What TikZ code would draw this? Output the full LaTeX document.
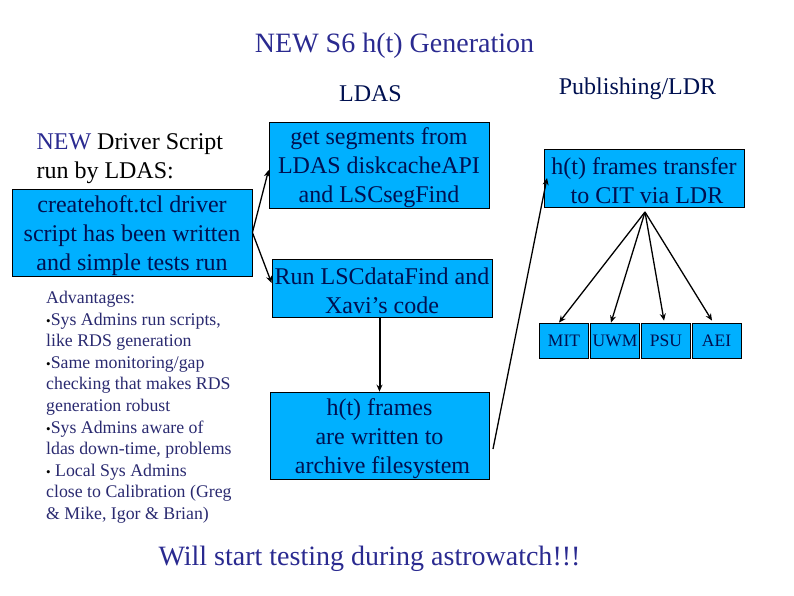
\documentclass[tikz,border=0pt]{standalone}
\usepackage{fontspec}
\setmainfont{Liberation Serif}
\usepackage{xcolor}
\usetikzlibrary{arrows.meta}
\definecolor{boxblue}{HTML}{00B0FF}
\definecolor{boxtext}{HTML}{001050}
\definecolor{headblue}{HTML}{2A2A90}
\definecolor{notetext}{HTML}{2A2A70}
\newcommand{\dotmark}{{\fontsize{13}{13}\selectfont\textcolor{black}{\textbullet}}}
\newcommand{\boxdrop}{\rule{0pt}{23pt}}
\tikzset{
    bigfont/.style={font=\fontsize{24}{29}\selectfont},
    bluebox/.style={draw=black, line width=0.8pt, fill=boxblue, text=boxtext, align=center, inner sep=0pt, bigfont},
    sitebox/.style={bluebox, font=\fontsize{17.5}{20}\selectfont, minimum width=49pt, minimum height=35pt},
    link/.style={-{Stealth[length=7pt,width=6pt]}, line width=1.3pt, black}
}
\begin{document}
\begin{tikzpicture}[x=1pt,y=-1pt]
        \useasboundingbox (0,0) rectangle (794,595);
        % Headings
        \node[text=headblue, font=\fontsize{28}{32}\selectfont] (title) at (394.5,46) {NEW S6 h(t) Generation};
        \node[text=boxtext, bigfont] (ldas) at (370.5,94) {LDAS};
        \node[text=boxtext, bigfont] (publishing) at (637.5,89) {Publishing/LDR};
        \node[bigfont, align=left, anchor=west, black] (driver) at (33,158.5) {\textcolor{headblue}{NEW} Driver Script\\run by LDAS:};
        % Boxes
        \node[bluebox, minimum width=240pt, minimum height=87pt] (create) at (132,232.5) {\boxdrop createhoft.tcl driver\\script has been written\\and simple tests run};
        \node[bluebox, minimum width=220pt, minimum height=86pt] (segments) at (379,165) {\boxdrop get segments from\\LDAS diskcacheAPI\\and LSCsegFind};
        \node[bluebox, minimum width=220pt, minimum height=58pt] (datafind) at (382,288) {\boxdrop Run LSCdataFind and\\Xavi's code};
        \node[bluebox, minimum width=219pt, minimum height=87pt] (frames) at (379.5,435.5) {\boxdrop h(t) frames\\are written to\\\hspace*{6pt}archive filesystem};
        \node[bluebox, minimum width=200pt, minimum height=58pt] (transfer) at (644,178) {\boxdrop h(t) frames transfer\\\hspace*{6pt}to CIT via LDR};
        % Sites
        \foreach \name/\x in {MIT/564,UWM/615,PSU/666,AEI/716.5} {
            \node[sitebox] (\name) at (\x,340.5) {\name};
        }
        % Notes
        \node[text=notetext, anchor=north west, align=left, inner sep=0pt, font=\fontsize{17.8}{21.6}\selectfont] (notes) at (46,291) {Advantages:\\
            \dotmark{}Sys Admins run scripts,\\
            like RDS generation\\
            \dotmark{}Same monitoring/gap\\
            checking that makes RDS\\
            generation robust\\
            \dotmark{}Sys Admins aware of\\
            ldas down-time, problems\\
            \dotmark{} Local Sys Admins\\
            close to Calibration (Greg\\
            \& Mike, Igor \& Brian)};
        \node[text=headblue, font=\fontsize{28}{32}\selectfont] (testing) at (369.5,559) {Will start testing during astrowatch!!!};
        % Connectors
        \coordinate (framesout) at (493,449);
        \coordinate (transferin) at (547,178);
        \coordinate (fan) at (645,212);
        \draw[link] (create.east) -- ([yshift=-5pt]segments.west);
        \draw[link] (create.east) -- ([yshift=5pt]datafind.west);
        \draw[link, line width=2pt] (datafind.south -| frames.north) -- (frames.north);
        \draw[link] (framesout) -- (transferin);
        \draw[link] (fan) -- ([xshift=-5pt]MIT.north);
        \draw[link] (fan) -- ([xshift=-4pt]UWM.north);
        \draw[link] (fan) -- ([xshift=-2pt,yshift=2pt]PSU.north);
        \draw[link] (fan) -- ([xshift=-4.5pt,yshift=2pt]AEI.north);
    \end{tikzpicture}
\end{document}
